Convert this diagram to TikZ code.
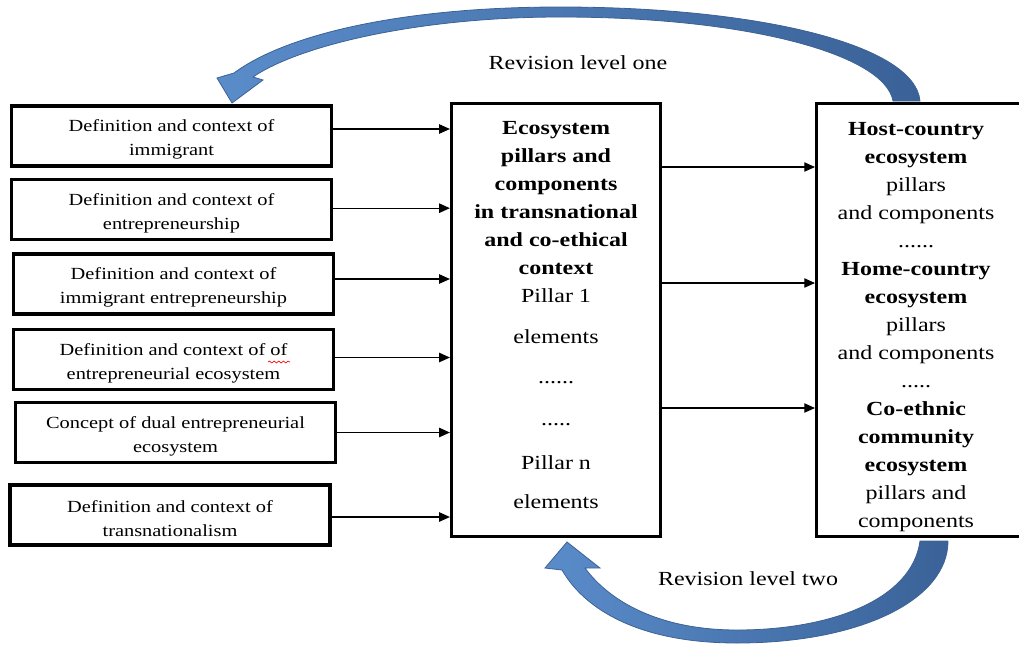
\documentclass[tikz,border=0pt]{standalone}
\usepackage{fontspec}
\setmainfont[FakeStretch=1.2]{Liberation Serif}
\usetikzlibrary{arrows.meta,decorations.pathmorphing}
\definecolor{arrlight}{RGB}{90,140,202}
\definecolor{arrdark}{RGB}{58,98,152}
\definecolor{arredge}{RGB}{60,98,148}
\newcommand{\lstrut}{\rule{0pt}{14.5pt}}
\begin{document}
\begin{tikzpicture}[x=0.75pt,y=-0.75pt,
  box/.style={draw=black,line width=2.4pt,minimum width=240pt,minimum height=45pt,inner sep=0pt,align=center,font=\fontsize{12.75}{18}\selectfont},
  bigbox/.style={draw=black,line width=2.4pt,inner sep=0pt},
  con/.style={line width=0.8pt,-{Triangle[length=8pt,width=7pt]}},
  txt/.style={align=center,inner sep=0pt,font=\fontsize{15}{21}\selectfont},
  blockarrow/.style={draw=arredge,line width=0.6pt,left color=arrlight,right color=arrdark}
]
\useasboundingbox (0,0) rectangle (1019,646);
\clip (0,0) rectangle (1019,646);

% block arrows (behind the boxes)
\path[blockarrow] (920,101) .. controls (915,45) and (760,7) .. (560,7)
  .. controls (400,7) and (285,35) .. (234,73)
  -- (217,78) -- (232,103) -- (263,80) -- (253,77)
  .. controls (300,45) and (420,17) .. (560,17)
  .. controls (750,17) and (885,55) .. (893,101) -- cycle;
\path[blockarrow] (948,541) .. controls (948,600) and (860,643) .. (737,643)
  .. controls (640,643) and (585,610) .. (562,570)
  -- (545,568) -- (567,542) -- (600,568) -- (585,568)
  .. controls (610,602) and (660,630) .. (737,630)
  .. controls (830,630) and (912,600) .. (920,541) -- cycle;

% left boxes
\node[box] (b1) at (171.5,136) {\lstrut Definition and context of\\immigrant};
\node[box] (b2) at (171.5,209.5) {\lstrut Definition and context of\\entrepreneurship};
\node[box] (b3) at (173.5,284) {\lstrut Definition and context of\\immigrant entrepreneurship};
\node[box] (b4) at (173.5,359.5) {\lstrut Definition and context of of\\entrepreneurial ecosystem};
\node[box] (b5) at (175.5,432.5) {\lstrut Concept of dual entrepreneurial\\ecosystem};
\node[box] (b6) at (170,515) {\lstrut Definition and context of\\transnationalism};
\draw[red,line width=0.5pt,decorate,decoration={snake,amplitude=0.7pt,segment length=3.5pt}] (268,362) -- (290,362);

% middle box
\node[bigbox,minimum width=156.75pt,minimum height=324.75pt] (mid) at (556,320) {};
\node[txt,anchor=north] (midtxt) at (556,121) {\textbf{Ecosystem}\\\textbf{pillars and}\\\textbf{components}\\\textbf{in transnational}\\\textbf{and co-ethical}\\\textbf{context}\\Pillar 1\\[9.75pt]elements\\[9pt]......\\[10.5pt].....\\[12pt]Pillar n\\[8.25pt]elements};

% right box
\node[bigbox,minimum width=160pt,minimum height=324.75pt] (host) at (923.25,320) {};
\node[txt,anchor=north] (hosttxt) at (916,122) {\textbf{Host-country}\\\textbf{ecosystem}\\pillars\\and components\\......\\\textbf{Home-country}\\\textbf{ecosystem}\\pillars\\and components\\.....\\\textbf{Co-ethnic}\\\textbf{community}\\\textbf{ecosystem}\\pillars and\\components};

% labels
\node[txt] (rev1) at (578,63) {Revision level one};
\node[txt] (rev2) at (748,579) {Revision level two};

% connectors
\draw[con] ([yshift=5.25pt]b1.east) -- ([yshift=5.25pt]b1.east -| mid.west);
\draw[con] ([yshift=1pt]b2.east) -- ([yshift=1pt]b2.east -| mid.west);
\draw[con] ([yshift=3.75pt]b3.east) -- ([yshift=3.75pt]b3.east -| mid.west);
\draw[con] ([yshift=1.5pt]b4.east) -- ([yshift=1.5pt]b4.east -| mid.west);
\draw[con] (b5.east) -- (b5.east -| mid.west);
\draw[con] ([yshift=-1.5pt]b6.east) -- ([yshift=-1.5pt]b6.east -| mid.west);
\coordinate (r1) at (0,167);
\coordinate (r2) at (0,283);
\coordinate (r3) at (0,408);
\draw[con] (mid.east |- r1) -- (host.west |- r1);
\draw[con] (mid.east |- r2) -- (host.west |- r2);
\draw[con] (mid.east |- r3) -- (host.west |- r3);
\end{tikzpicture}
\end{document}
